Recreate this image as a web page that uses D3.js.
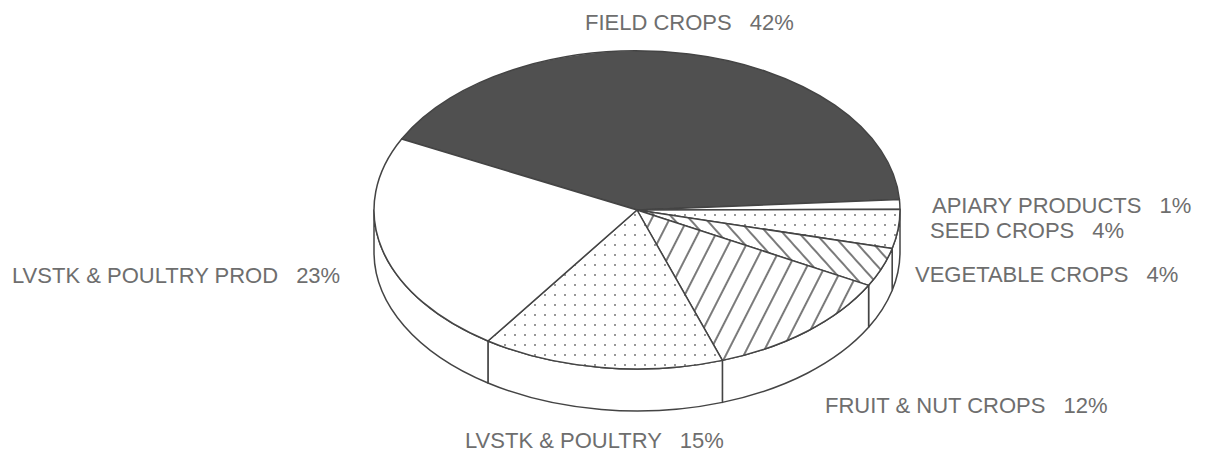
<!DOCTYPE html>
<html>
<head>
<meta charset="utf-8">
<script src="https://cdn.jsdelivr.net/npm/d3@7/dist/d3.min.js"></script>
<style>
  html, body { margin: 0; padding: 0; background: #fff; }
  svg { display: block; }
  .lbl { font-family: "Liberation Sans", Arial, sans-serif; font-size: 22px; fill: #6e6e6e; }
</style>
</head>
<body>
<svg id="chart" width="1207" height="458"></svg>
<script>
// farm receipts by commodity group, share of total (%)
const categories = ["FIELD CROPS", "APIARY PRODUCTS", "SEED CROPS", "VEGETABLE CROPS",
  "FRUIT & NUT CROPS", "LVSTK & POULTRY", "LVSTK & POULTRY PROD"];
const shares = [42, 1, 4, 4, 12, 15, 23];
const pctLabels = ["42%", "1%", "4%", "4%", "12%", "15%", "23%"];
const fills = ["#505050", "#fff", "url(#dots)", "url(#hatchBack)", "url(#hatchFwd)", "url(#dots)", "#fff"];

const W = 1207, H = 458;
const cx = 637, cy = 210, rx = 263, ry = 159, depth = 42;
const startDeg = 206.5; // screen angle (from 3 o'clock, clockwise) where field crops begins

// where each label sits (start x, baseline y)
const labelPos = [[585, 30], [932, 213], [930, 238], [915, 282], [825, 413], [465, 448], [12, 283]];

const svg = d3.select("#chart");
svg.append("rect").attr("width", W).attr("height", H).attr("fill", "#fff");

const defs = svg.append("defs");
const dots = defs.append("pattern").attr("id", "dots").attr("patternUnits", "userSpaceOnUse")
  .attr("width", 10).attr("height", 10);
dots.append("rect").attr("width", 10).attr("height", 10).attr("fill", "#fff");
dots.append("circle").attr("cx", 5).attr("cy", 5).attr("r", 0.9).attr("fill", "#666");

function hatch(id, spacing, rot) {
  const p = defs.append("pattern").attr("id", id).attr("patternUnits", "userSpaceOnUse")
    .attr("width", spacing).attr("height", spacing).attr("patternTransform", `rotate(${rot})`);
  p.append("rect").attr("width", spacing).attr("height", spacing).attr("fill", "#fff");
  p.append("line").attr("x1", spacing / 2).attr("x2", spacing / 2).attr("y1", -1).attr("y2", spacing + 1)
    .attr("stroke", "#333").attr("stroke-width", 1.3);
}
hatch("hatchFwd", 16, 27);
hatch("hatchBack", 12, -42);

const pie = d3.pie().sort(null).value((d) => d)
  .startAngle((startDeg + 90) * Math.PI / 180)
  .endAngle((startDeg + 90 + 360) * Math.PI / 180);
const arcs = pie(shares);

// d3 angle (0 at 12 o'clock) -> screen angle (0 at 3 o'clock)
const toScreen = d3.scaleLinear().domain([0, 1]).range([-Math.PI / 2, 1 - Math.PI / 2]);
const pt = (t, dy = 0) => [cx + rx * Math.cos(t), cy + ry * Math.sin(t) + dy];
const f = (p) => `${p[0].toFixed(2)},${p[1].toFixed(2)}`;

// side walls (front half only)
const walls = svg.append("g");
arcs.forEach((a) => {
  const t0 = toScreen(a.startAngle), t1 = toScreen(a.endAngle);
  for (let k = -1; k <= 2; k += 1) {
    const lo = Math.max(t0, 2 * Math.PI * k), hi = Math.min(t1, 2 * Math.PI * k + Math.PI);
    if (hi <= lo) continue;
    const d = `M${f(pt(lo))} A${rx},${ry} 0 0 1 ${f(pt(hi))} L${f(pt(hi, depth))} ` +
      `A${rx},${ry} 0 0 0 ${f(pt(lo, depth))} Z`;
    walls.append("path").attr("d", d).attr("fill", "#fff")
      .attr("stroke", "#444").attr("stroke-width", 1.5).attr("stroke-linejoin", "round");
  }
});

// top faces
const tops = svg.append("g");
arcs.forEach((a, i) => {
  const t0 = toScreen(a.startAngle), t1 = toScreen(a.endAngle);
  const large = t1 - t0 > Math.PI ? 1 : 0;
  const d = `M${cx},${cy} L${f(pt(t0))} A${rx},${ry} 0 ${large} 1 ${f(pt(t1))} Z`;
  tops.append("path").attr("d", d).attr("fill", fills[i])
    .attr("stroke", "#444").attr("stroke-width", 1.5).attr("stroke-linejoin", "round");
});

// labels
const lg = svg.append("g");
categories.forEach((c, i) => {
  const t = lg.append("text").attr("class", "lbl")
    .attr("x", labelPos[i][0]).attr("y", labelPos[i][1]);
  t.append("tspan").text(c);
  t.append("tspan").attr("dx", 18).text(pctLabels[i]);
});
</script>
</body>
</html>
